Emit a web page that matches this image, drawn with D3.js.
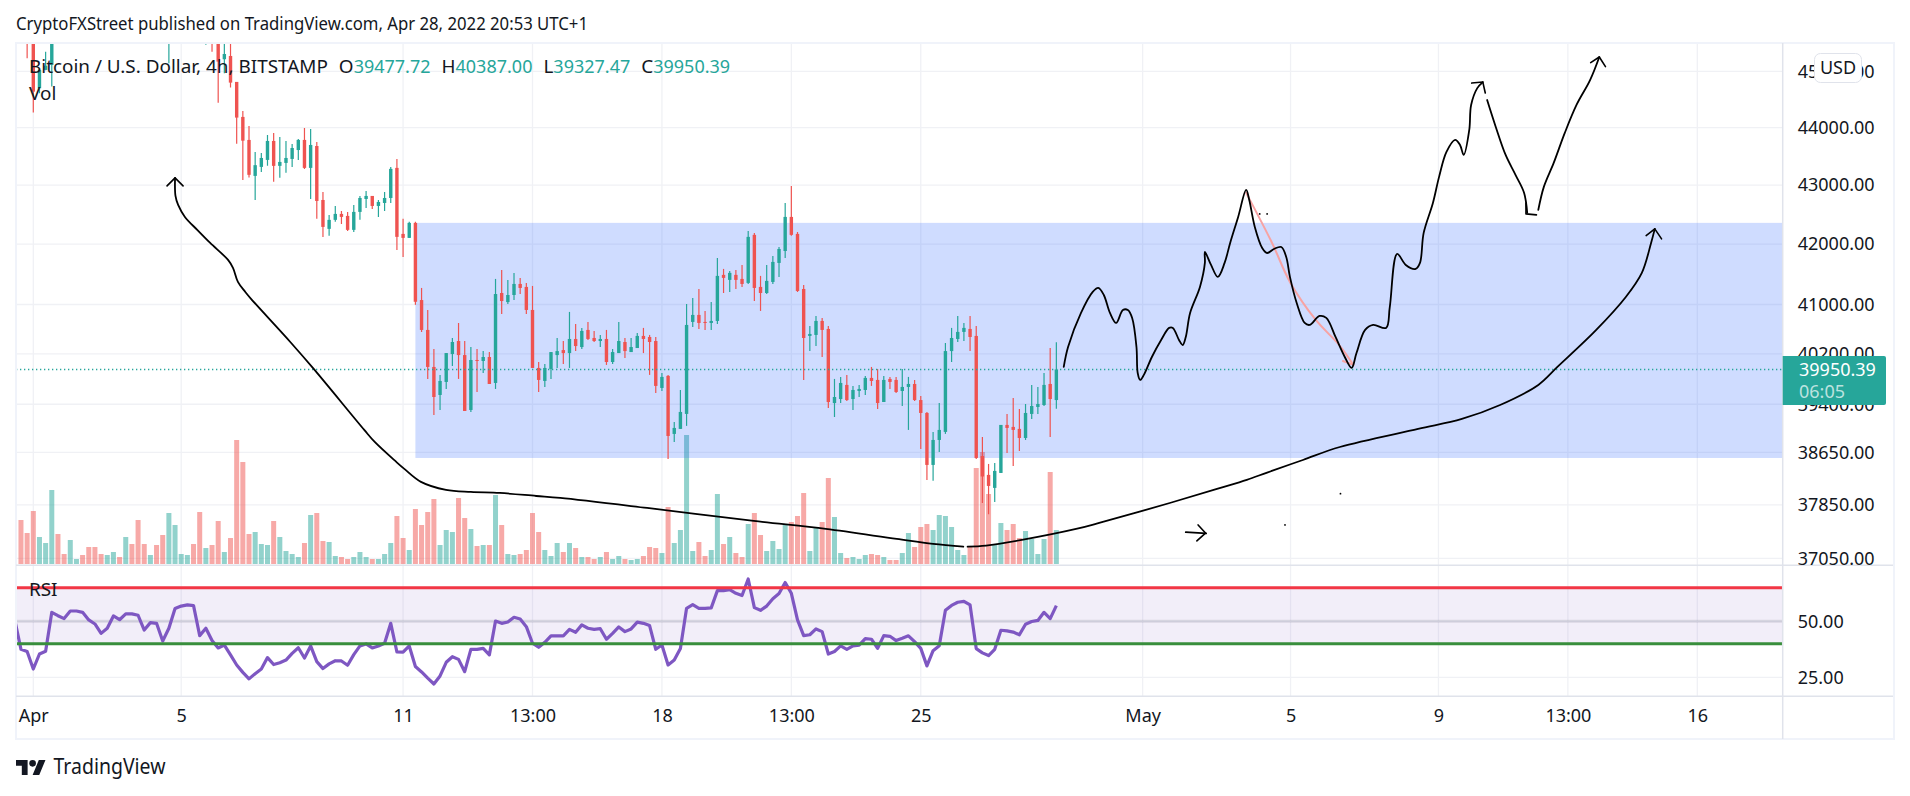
<!DOCTYPE HTML>
<html>
	<head>
		<meta http-equiv="content-type" content="text/html; charset=utf-8">
		<title>Bitcoin / U.S. Dollar, 4h</title>
		<script src="https://d3js.org/d3.v7.min.js"></script>
		<style>
			html, body { margin: 0; padding: 0; background: #fff; }
			svg { display: block; }
			text { font-family: "Noto Sans", sans-serif; fill: #131722; }
			.axis path, .axis line { display: none; }
			.axis text { font-family: "Noto Sans", sans-serif; font-size: 18px; fill: #131722; }
		</style>
	</head>
	<body>
		<svg width="1910" height="796"></svg>
		<script type="text/javascript" charset="utf-8">
// candles run from bar -3 to bar 166, bar 0 being the Apr tick; those above the chart top are estimates
var firstBar = -3;
var opens = [46200,46050,45900,45800,44697,45025,45115,45750,45650,45600,45900,46000,45900,45750,45650,45600,45800,45950,45850,46250,46050,45800,45650,45850,45700,
	45600,46100,46400,46500,46650,46350,46000,46100,45800,45217,45276,44810,44188,43784,43160,43315,43436,43766,43333,43384,43453,43608,43784,43298,43678,42747,
	42257,42409,42510,42476,42240,42544,42764,42816,42645,42696,42781,43298,42172,42105,42358,41073,40586,39991,39546,39752,40197,40407,40181,39310,40102,
	40086,40150,39736,41189,41040,41156,41338,41289,40911,39975,39768,39959,40181,40261,40213,40440,40310,40586,40456,40407,40440,40070,40213,40391,40229,
	40294,40489,40472,40407,39657,39848,38936,39014,39248,40716,40830,40716,40699,40732,41488,41405,41488,41421,41355,42156,41289,41189,41371,41686,41885,
	42459,42172,41255,40489,40505,40732,40602,39419,39482,39705,39482,39609,39625,39816,39784,39435,39800,39784,39609,39673,39720,39466,39263,38457,38842,
	38967,40245,40440,40554,40602,40489,38594,38304,38106,38334,39076,39045,39014,38873,39248,39357,39388,39720,39466];
var highs = [46300,46150,46200,46050,45055,45353,46000,46000,45800,45950,46050,46100,46000,45850,45800,45850,46000,46050,46300,46400,46200,45950,45900,46000,45850,
	46300,46500,46600,46700,46700,46400,46150,46200,45900,45600,45600,44810,44294,44030,43574,43556,43872,43907,43837,43766,43714,43801,43995,43977,43749,42882,
	42493,42645,42561,42544,42662,42816,42899,42816,42747,42882,43315,43453,42426,42375,42375,41272,40911,40277,39864,40213,40456,40699,40407,40310,40277,
	40245,40229,41421,41570,41405,41521,41438,41355,41305,40070,40039,40229,40456,40407,40879,40683,40619,40716,40570,40505,40586,40277,40716,40456,40456,
	40538,40619,40505,40472,39895,39864,39123,39625,41008,41106,41255,40895,41040,41769,41587,41554,41570,41653,42223,42189,41471,41653,41803,41953,42696,
	42987,42206,41322,40651,40813,40781,40651,39800,39832,39864,39689,39705,39848,39991,39959,39848,39832,39832,39959,39832,39784,39530,39279,38967,39419,
	40375,40619,40813,40699,40813,40651,38889,38472,38487,39076,39248,39498,39326,39404,39705,39673,39895,40293,40387];
var lows = [45900,45750,45236,44264,44607,45020,44726,45600,45560,45560,45850,45850,45700,45600,45580,45560,45750,45800,45800,46000,45700,45600,45600,45650,45580,
	45145,46000,46350,46450,46300,45900,45480,45353,44440,44965,44708,43718,43091,43131,42747,43229,43333,43057,43126,43212,43315,43436,43281,42764,42426,42122,
	42139,42375,42341,42223,42206,42409,42611,42594,42459,42561,42696,41902,41786,42105,40995,40553,39800,39232,39310,39641,40007,39800,39294,39279,39593,
	39895,39720,39641,40846,41008,41073,41172,40846,39975,39593,39673,39800,39975,40039,39975,40245,40277,40424,40391,40310,40023,40039,40213,40134,40229,
	40294,40213,39864,39577,39609,38548,38811,39014,39061,40635,40602,40586,40586,40683,41189,41205,41255,41289,41338,41057,40895,41172,41338,41454,41769,
	42139,41205,39784,40245,40326,40150,39341,39200,39419,39450,39310,39514,39546,39689,39326,39435,39641,39577,39372,38998,39450,38702,38228,38213,38655,
	38936,40070,40391,40407,40245,38548,37876,37708,37892,38334,38640,38441,38671,38842,39168,39248,39372,38889,39327.47];
var closes = [46050,45900,45800,44636,45025,45102,45750,45650,45600,45900,46000,45900,45750,45650,45600,45800,45950,45850,46250,46050,45800,45650,45850,45700,45600,
	46100,46400,46500,46650,46350,46000,46100,45800,45174,45312,44797,44176,43771,43178,43345,43470,43766,43333,43401,43470,43643,43784,43298,43696,42730,42290,
	42409,42510,42459,42240,42544,42781,42816,42645,42713,42781,43281,42122,42105,42358,41045,40586,39991,39514,39768,40213,40391,40181,39294,40102,40086,
	40150,39720,41172,41057,41156,41338,41272,40911,39975,39784,39975,40229,40245,40213,40440,40326,40570,40440,40407,40440,40070,40229,40407,40245,40310,
	40489,40440,40391,39689,39832,38904,39029,39279,40667,40830,40699,40699,40732,41471,41438,41521,41405,41338,42122,41272,41189,41388,41703,41919,42459,
	42156,41222,40456,40521,40732,40586,39435,39514,39736,39466,39625,39641,39816,39768,39419,39784,39752,39593,39673,39720,39466,39263,38457,38842,38998,
	40245,40456,40554,40619,40472,38564,38280,38136,38365,39076,39029,38998,38873,39263,39372,39404,39705,39482,39950.39];
var volumes = [0,44,31,53,27,21,74,30,10,24,5,9,17,17,10,9,12,7,27,20,44,20,9,19,29,51,39,10,9,20,52,16,19,43,12,26,124,102,30,32,20,19,43,27,13,10,7,21,49,51,23,22,8,7,5,7,12,7,5,5,10,21,48,26,14,55,39,52,65,19,34,32,66,46,35,18,19,19,69,39,10,9,10,14,51,32,14,8,21,12,21,16,7,7,5,7,12,5,8,5,4,5,8,17,16,11,57,21,34,129,13,22,8,14,70,20,27,11,7,40,51,29,13,23,15,39,42,48,71,13,36,42,86,47,11,6,7,5,9,10,9,7,4,4,11,31,17,37,40,34,49,48,37,14,9,17,96,112,70,19,41,34,40,26,33,25,10,25,92,34];
var rsi = [50.6,37.5,36.5,28.7,35.4,36.6,54.0,52.5,51.2,54.6,54.6,54.0,50.6,48.8,44.6,46.9,52.4,50.7,53.3,53.3,52.7,46.1,49.4,49.1,41.2,46.9,55.7,56.8,57.3,57.0,
	43.6,46.9,41.4,38.1,39.4,35.0,30.5,27.2,24.3,26.6,28.7,33.8,30.7,31.5,32.7,35.7,38.2,33.6,39.0,32.0,28.9,31.0,32.4,32.3,30.4,35.1,39.0,39.9,38.1,39.0,40.2,49.1,
	36.3,36.2,39.0,29.8,27.4,24.6,22.0,25.6,31.7,34.2,33.0,27.5,37.5,37.5,37.9,35.0,50.1,49.1,49.7,51.8,51.0,47.6,40.2,38.4,40.6,43.5,43.5,43.5,46.4,45.1,48.4,
	46.9,46.4,46.7,42.0,44.6,47.5,45.4,46.6,49.6,49.1,48.1,37.5,39.4,30.5,32.7,37.9,55.8,57.4,55.8,55.8,56.0,63.7,63.7,64.1,62.5,61.5,68.9,56.1,54.9,56.8,60.1,62.4,
	67.3,62.5,50.6,43.6,44.0,46.6,45.4,35.4,36.5,39.0,37.5,39.0,39.4,42.3,42.0,37.9,43.6,43.3,41.4,42.4,43.5,40.9,37.9,30.1,36.9,39.1,54.9,57.1,58.5,58.9,57.3,
	37.8,35.9,34.7,37.5,46.0,45.7,45.2,44.0,48.7,49.9,50.4,54.0,51.2,57.0];

var priceTicks = [45000,44000,43000,42000,41000,40200,39400,38650,37850,37050];
var rsiTicks = [50,25];
var timeTickBars = [0,24,60,81,102,123,144,180,204,228,249,270];
var timeTickLabels = ["Apr","5","11","13:00","18","13:00","25","May","5","9","13:00","16"];

// range box and level lines, in price or RSI terms
var boxStartBar = 62, boxTop = 42358, boxBottom = 38564;
var lastPrice = 39950.39;
var rsiUpper = 65, rsiMiddle = 50, rsiLower = 40;

// hand drawn annotations as [bar, price]
var sketchDown = [[23,43126],[23.07,42816],[23.5,42662],[24.6,42459],[26.6,42240],[28.7,42020],[31.6,41736],[32.4,41604],[33.2,41372],[34.4,41206],[35.5,41073],[41.7,40391],[45.5,39959],[53.7,38998],[55.4,38811],[58.9,38503],[60.2,38396],[62.9,38197],[66.97,38075],[71,38044],[75.7,38029],[81.6,37983],[85.5,37953],[99.6,37802],[116.9,37607],[128.6,37487],[140.1,37337],[146,37263],[150.9,37223]];
var sketchDownHead = [[21.7,42988],[23,43126],[24.3,42988]];
var sketchUp = [[151.6,37223],[154.6,37238],[160.4,37323],[169.2,37487],[173.1,37581],[184.4,37877],[192.2,38095],[196.9,38228],[200.2,38340],[206,38533],[212,38733],[224.7,39014],[231.8,39170],[238,39388],[244.2,39705],[247.3,39991],[253.6,40586],[258.4,41123],[261,41521],[262.5,42020],[263.1,42257]];
var sketchUpHead = [[261.7,42144],[263.1,42257],[264.2,42088]];
var sketchWave = [[167.2,39991],[167.9,40310],[170,40862],[171.9,41206],[172.8,41272],[173.7,41156],[174.7,40862],[175.7,40699],[176.8,40911],[177.6,40911],[178.3,40781],[179,40310],[179.2,39895],[179.6,39784],[180.2,39864],[181.5,40150],[183,40424],[184.3,40619],[184.9,40619],[185.9,40424],[186.5,40342],[187,40472],[187.7,40862],[189.3,41289],[190.1,41686],[190.1,41869],[191.1,41653],[192.2,41454],[193.3,41686],[194.2,42020],[195.5,42459],[196.8,42919],[197.3,42747],[198.2,42290],[199.4,41936],[200.2,41852],[201.3,41919],[202.5,41953],[203.3,41786],[203.9,41454],[205,41024],[206.3,40699],[207.1,40667],[208.7,40813],[209.8,40781],[211.3,40472],[212.8,40150],[213.9,39975],[214.7,40213],[216.1,40586],[217.4,40667],[219.5,40619],[220.1,40959],[221.3,41836],[222.7,41653],[224.3,41587],[225,41686],[225.6,42189],[227.1,42696],[228.1,43143],[229.3,43574],[230.7,43784],[231.5,43696],[232.1,43522],[233,43960],[233.3,44399],[234.3,44699],[235.2,44807]];
var sketchWaveHead = [[233.4,44789],[235.2,44807],[235.6,44612]];
var sketchDrop = [[235.9,44487],[237.3,44012],[238.9,43522],[240.5,43178],[241.9,42868],[242.4,42527]];
var sketchFoot = [[242.2,42696],[242.2,42510],[243.9,42493]];
var sketchRise = [[244.2,42578],[245.1,42971],[246.7,43384],[248.5,43907],[250.4,44399],[252.6,44842],[254.1,45258]];
var sketchRiseHead = [[252.7,45156],[254.1,45258],[255.1,45084]];
var sketchSmallArrow = [[187,37438],[190.3,37420]];
var sketchSmallHead = [[189,37547],[190.2,37425],[188.8,37308]];
var pinkLine = [[196.8,42868],[201,42020],[203.9,41372],[208.1,40748],[211.9,40342],[214.2,40023]];
var pinkHead = [[212.5,40086],[214.2,40023]];
var sketchDots = [[199,42510],[200.2,42510],[203.1,37547],[212.1,38018]];

var up = "#26a69a", down = "#ef5350", gridColor = "#f0f1f5", frameColor = "#f0f3fa", paneLine = "#e0e3eb";

var svg = d3.select("svg"),
	left = 16, right = 1782.7, top_ = 43, mainBottom = 565.3, rsiBottom = 696.3, axisBottom = 739;

var x = d3.scaleLinear().domain([0, 270]).range([33.3, 1697.3]),
	y = d3.scaleLog().domain([37050, 45000]).range([558.3, 71.3]),
	yVol = d3.scaleLinear().domain([0, 130]).range([564, 434]),
	yRsi = d3.scaleLinear().domain([25, 50]).range([677.3, 621.3]);

var bars = d3.range(opens.length).map(function(i) {
	return {bar: firstBar + i, o: opens[i], h: highs[i], l: lows[i], c: closes[i], v: volumes[i], r: rsi[i]};
});

function colorOf(d) { return d.c >= d.o ? up : down; }

svg.append("clipPath").attr("id", "mainClip").append("rect")
	.attr("x", left).attr("y", top_).attr("width", right - left).attr("height", mainBottom - top_);
svg.append("clipPath").attr("id", "rsiClip").append("rect")
	.attr("x", left).attr("y", mainBottom).attr("width", right - left).attr("height", rsiBottom - mainBottom);

svg.append("text")
	.attr("x", 16).attr("y", 30)
	.attr("textLength", 572).attr("lengthAdjust", "spacingAndGlyphs")
	.style("font-size", "18px")
	.text("CryptoFXStreet published on TradingView.com, Apr 28, 2022 20:53 UTC+1");

// grid
var grid = svg.append("g").attr("stroke", gridColor).attr("stroke-width", 1.3);
grid.selectAll(".gv").data(timeTickBars).enter().append("line")
	.attr("x1", function(d) { return x(d); }).attr("x2", function(d) { return x(d); })
	.attr("y1", top_).attr("y2", rsiBottom);
grid.selectAll(".gh").data(priceTicks).enter().append("line")
	.attr("x1", left).attr("x2", right)
	.attr("y1", function(d) { return y(d); }).attr("y2", function(d) { return y(d); });
grid.selectAll(".gr").data(rsiTicks).enter().append("line")
	.attr("x1", left).attr("x2", right)
	.attr("y1", function(d) { return yRsi(d); }).attr("y2", function(d) { return yRsi(d); });

var main = svg.append("g").attr("clip-path", "url(#mainClip)");

// volume
main.selectAll(".vol").data(bars).enter().append("rect")
	.attr("x", function(d) { return x(d.bar) - 2.5; })
	.attr("width", 5)
	.attr("y", function(d) { return yVol(d.v); })
	.attr("height", function(d) { return yVol(0) - yVol(d.v); })
	.attr("fill", colorOf)
	.attr("fill-opacity", 0.5);

// range box
main.append("rect")
	.attr("x", x(boxStartBar)).attr("width", right - x(boxStartBar))
	.attr("y", y(boxTop)).attr("height", y(boxBottom) - y(boxTop))
	.attr("fill", "#2962ff").attr("fill-opacity", 0.224);

// last price line
svg.append("line")
	.attr("x1", left).attr("x2", right)
	.attr("y1", y(lastPrice)).attr("y2", y(lastPrice))
	.attr("stroke", up).attr("stroke-width", 1.3).attr("stroke-dasharray", "1.3 2.7");

// candles
main.selectAll(".wick").data(bars).enter().append("line")
	.attr("x1", function(d) { return x(d.bar); }).attr("x2", function(d) { return x(d.bar); })
	.attr("y1", function(d) { return y(d.h); }).attr("y2", function(d) { return y(d.l); })
	.attr("stroke", colorOf).attr("stroke-width", 1.2);
main.selectAll(".body").data(bars).enter().append("rect")
	.attr("x", function(d) { return x(d.bar) - 1.7; })
	.attr("width", 3.4)
	.attr("y", function(d) { return y(Math.max(d.o, d.c)); })
	.attr("height", function(d) { return Math.max(1, Math.abs(y(d.o) - y(d.c))); })
	.attr("fill", colorOf);

// RSI pane
var rsiPane = svg.append("g").attr("clip-path", "url(#rsiClip)");
rsiPane.append("rect")
	.attr("x", left).attr("width", right - left)
	.attr("y", yRsi(rsiUpper)).attr("height", yRsi(rsiLower) - yRsi(rsiUpper))
	.attr("fill", "#7e57c2").attr("fill-opacity", 0.1);
rsiPane.append("line")
	.attr("x1", left).attr("x2", right).attr("y1", yRsi(rsiMiddle)).attr("y2", yRsi(rsiMiddle))
	.attr("stroke", "#787b86").attr("stroke-opacity", 0.2).attr("stroke-width", 3);

var rsiLine = d3.line()
	.x(function(d) { return x(d.bar); })
	.y(function(d) { return yRsi(d.r); });
rsiPane.append("path").datum(bars)
	.attr("d", rsiLine)
	.attr("fill", "none").attr("stroke", "#7e57c2").attr("stroke-width", 3.2).attr("stroke-linejoin", "round");
rsiPane.append("line")
	.attr("x1", left).attr("x2", right).attr("y1", yRsi(rsiUpper)).attr("y2", yRsi(rsiUpper))
	.attr("stroke", "#f23645").attr("stroke-width", 3);
rsiPane.append("line")
	.attr("x1", left).attr("x2", right).attr("y1", yRsi(rsiLower)).attr("y2", yRsi(rsiLower))
	.attr("stroke", "#388e3c").attr("stroke-width", 3);

// annotations
var smooth = d3.line().x(function(d) { return x(d[0]); }).y(function(d) { return y(d[1]); }).curve(d3.curveCatmullRom.alpha(0.5));
var straight = d3.line().x(function(d) { return x(d[0]); }).y(function(d) { return y(d[1]); });
var sketches = svg.append("g").attr("fill", "none").attr("stroke-linecap", "round").attr("stroke-linejoin", "round");

sketches.append("path").attr("d", smooth(pinkLine)).attr("stroke", "#f7a3a3").attr("stroke-width", 2);
sketches.append("path").attr("d", straight(pinkHead)).attr("stroke", "#f7a3a3").attr("stroke-width", 2);
[sketchDown, sketchUp, sketchWave, sketchDrop, sketchRise, sketchSmallArrow].forEach(function(s) {
	sketches.append("path").attr("d", smooth(s)).attr("stroke", "#000").attr("stroke-width", 1.8);
});
[sketchDownHead, sketchUpHead, sketchWaveHead, sketchFoot, sketchRiseHead, sketchSmallHead].forEach(function(s) {
	sketches.append("path").attr("d", straight(s)).attr("stroke", "#000").attr("stroke-width", 1.6);
});
svg.selectAll(".dot").data(sketchDots).enter().append("circle")
	.attr("cx", function(d) { return x(d[0]); })
	.attr("cy", function(d) { return y(d[1]); })
	.attr("r", 0.9).attr("fill", "#000");

// legend
var legend = svg.append("text").attr("x", 29).attr("y", 73).style("font-size", "18.9px");
legend.append("tspan").text("Bitcoin / U.S. Dollar, 4h, BITSTAMP");
[["O", "39477.72"], ["H", "40387.00"], ["L", "39327.47"], ["C", "39950.39"]].forEach(function(p) {
	legend.append("tspan").attr("dx", 11).text(p[0]);
	legend.append("tspan").style("fill", up).style("font-size", "18px").text(p[1]);
});
svg.append("text").attr("x", 29).attr("y", 100).style("font-size", "18.9px").text("Vol");
svg.append("text").attr("x", 29).attr("y", 596).style("font-size", "18.9px").text("RSI");

// frame and pane separators
svg.append("rect")
	.attr("x", 16).attr("y", 43).attr("width", 1878).attr("height", 696)
	.attr("fill", "none").attr("stroke", frameColor).attr("stroke-width", 2);
var seps = svg.append("g").attr("stroke", paneLine).attr("stroke-width", 1.5);
seps.append("line").attr("x1", left).attr("x2", 1893).attr("y1", mainBottom).attr("y2", mainBottom);
seps.append("line").attr("x1", left).attr("x2", 1893).attr("y1", rsiBottom).attr("y2", rsiBottom);
seps.append("line").attr("x1", right).attr("x2", right).attr("y1", top_).attr("y2", axisBottom);

// axes
var priceAxis = d3.axisRight(y)
	.tickValues(priceTicks)
	.tickFormat(d3.format(".2f"))
	.tickSize(0)
	.tickPadding(15);
svg.append("g").attr("class", "axis")
	.attr("transform", "translate(" + right + ",0)")
	.call(priceAxis);

var rsiAxis = d3.axisRight(yRsi)
	.tickValues(rsiTicks)
	.tickFormat(d3.format(".2f"))
	.tickSize(0)
	.tickPadding(15);
svg.append("g").attr("class", "axis")
	.attr("transform", "translate(" + right + ",0)")
	.call(rsiAxis);

var timeAxis = d3.axisBottom(x)
	.tickValues(timeTickBars)
	.tickFormat(function(d, i) { return timeTickLabels[i]; })
	.tickSize(0)
	.tickPadding(13);
svg.append("g").attr("class", "axis")
	.attr("transform", "translate(0," + rsiBottom + ")")
	.call(timeAxis);

// last price tag
svg.append("path")
	.attr("d", "M" + right + "," + 356 + "H1884a2,2 0 0 1 2,2V403a2,2 0 0 1 -2,2H" + right + "Z")
	.attr("fill", up);
svg.append("text").attr("x", 1799).attr("y", 376).style("font-size", "18px").style("fill", "#fff").text(d3.format(".2f")(lastPrice));
svg.append("text").attr("x", 1799).attr("y", 398).style("font-size", "18px").style("fill", "#fff").style("fill-opacity", 0.7).text("06:05");

// currency button
svg.append("rect")
	.attr("x", 1814.5).attr("y", 53.5).attr("width", 47).attr("height", 29).attr("rx", 6)
	.attr("fill", "#fff").attr("stroke", paneLine);
svg.append("text").attr("x", 1838).attr("y", 74).attr("text-anchor", "middle").style("font-size", "18px").text("USD");

// logo
var logo = svg.append("g").attr("transform", "translate(16,756.7) scale(0.83)").attr("fill", "#131722");
logo.append("path").attr("d", "M14 22H7V11H0V4h14v18zM28 22h-8l7.5-18h8L28 22z");
logo.append("circle").attr("cx", 20).attr("cy", 8).attr("r", 4);
svg.append("text").attr("x", 53.5).attr("y", 774)
	.attr("textLength", 112).attr("lengthAdjust", "spacingAndGlyphs")
	.style("font-size", "21px")
	.text("TradingView");
		</script>
	</body>
</html>
